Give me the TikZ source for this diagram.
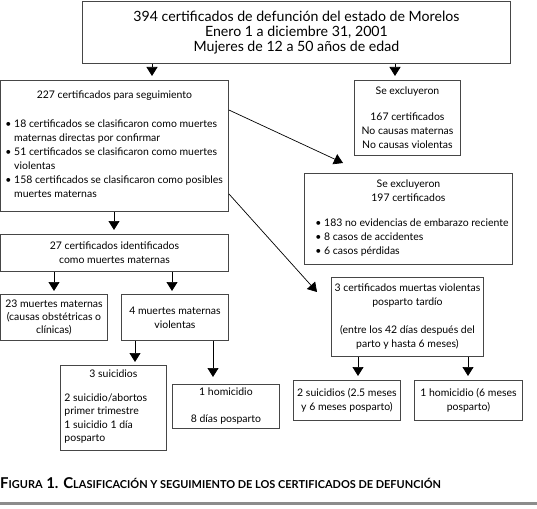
\documentclass[tikz,border=0pt]{standalone}
\usepackage{fontspec}
\setmainfont{Lato}
\usetikzlibrary{arrows.meta}

\newcommand{\leftblock}[2]{\makebox[#1][l]{\begin{tabular}{@{}l@{}}#2\end{tabular}}}
\newcommand{\bul}{\textbullet\ }
\newcommand{\nobul}{\phantom{\textbullet\ }}
\newcommand{\capsm}[1]{{\fontsize{11}{13}\selectfont #1}}

\begin{document}
\begin{tikzpicture}[x=1bp,y=-1bp,
  box/.style={draw=boxline,line width=0.9bp,anchor=north west,align=center,
    inner sep=0pt,font=\fontsize{10.5}{14}\selectfont},
  arr/.style={draw=black,line width=0.7bp,-{Triangle[width=11bp,length=9bp]},shorten >=4bp}]
% Define colours
\definecolor{boxline}{RGB}{70,70,70}
\definecolor{rule}{RGB}{140,140,140}
\useasboundingbox (0,0) rectangle (537,509);

% Top box
\node[box,minimum width=428bp,minimum height=62bp,font=\fontsize{14.2}{15}\selectfont] (total) at (82,1)
  {394 certificados de defunción del estado de Morelos\\ Enero 1 a diciembre 31, 2001\\ Mujeres de 12 a 50 años de edad};

% Second level
\node[box,minimum width=228bp,minimum height=131bp] (seg) at (0,80)
  {227 certificados para seguimiento\\[17bp]
   \leftblock{218bp}{\bul 18 certificados se clasificaron como muertes\\
   \nobul maternas directas por confirmar\\
   \bul 51 certificados se clasificaron como muertes\\
   \nobul violentas\\
   \bul 158 certificados se clasificaron como posibles\\
   \nobul muertes maternas}};
\node[box,minimum width=106bp,minimum height=75bp] (excl1) at (354,80)
  {Se excluyeron\\[12bp] 167 certificados\\ No causas maternas\\ No causas violentas};
\node[box,minimum width=208bp,minimum height=91bp] (excl2) at (304,173)
  {Se excluyeron\\ 197 certificados\\[14bp]
   \leftblock{186bp}{\bul 183 no evidencias de embarazo reciente\\
   \bul 8 casos de accidentes\\
   \bul 6 casos pérdidas}};

% Maternal deaths
\node[box,minimum width=228bp,minimum height=37bp] (mat27) at (0,234)
  {27 certificados identificados\\ como muertes maternas};
\node[box,minimum width=107bp,minimum height=46bp,font=\fontsize{10.5}{13.5}\selectfont] (mat23) at (0,294)
  {23 muertes maternas\\ (causas obstétricas o\\ clínicas)};
\node[box,minimum width=107bp,minimum height=46bp] (viol4) at (121,294)
  {4 muertes maternas\\ violentas};
\node[box,minimum width=106bp,minimum height=85bp,font=\fontsize{10.5}{13.5}\selectfont] (sui3) at (60,365)
  {3 suicidios\\[13bp]
   \leftblock{98bp}{2 suicidio/abortos\\ primer trimestre\\ 1 suicidio 1 día\\ posparto}};
\node[box,minimum width=107bp,minimum height=44bp] (hom1) at (172,384)
  {1 homicidio\\[13bp] 8 días posparto};

% Late postpartum
\node[box,minimum width=152bp,minimum height=79bp] (late3) at (331,277)
  {3 certificados muertas violentas\\ posparto tardío\\[14bp]
   (entre los 42 días después del\\ parto y hasta 6 meses)};
\node[box,minimum width=107bp,minimum height=40bp] (sui2) at (293,380)
  {2 suicidios (2.5 meses\\ y 6 meses posparto)};
\node[box,minimum width=108bp,minimum height=40bp] (hom6) at (414,380)
  {1 homicidio (6 meses\\ posparto)};

% Arrow positions
\coordinate (xseg) at (152,0);
\coordinate (xexcl) at (395,0);
\coordinate (xmat) at (114,0);
\coordinate (xmat23) at (54,0);
\coordinate (xviol) at (172,0);
\coordinate (xsui) at (135,0);
\coordinate (xhom) at (213,0);
\coordinate (xsui2) at (358,0);
\coordinate (xhom6) at (468,0);

% Add arrows
\draw[arr] (total.south -| xseg) -- (seg.north -| xseg);
\draw[arr] (total.south -| xexcl) -- (excl1.north -| xexcl);
\draw[arr] (seg.south -| xmat) -- (mat27.north -| xmat);
\draw[arr,shorten >=3bp] (mat27.south -| xmat23) -- (mat23.north -| xmat23);
\draw[arr,shorten >=3bp] (mat27.south -| xviol) -- (viol4.north -| xviol);
\draw[arr,shorten >=3bp] (viol4.south -| xsui) -- (sui3.north -| xsui);
\draw[arr,shorten >=7bp] (viol4.south -| xhom) -- (hom1.north -| xhom);
\draw[arr] (late3.south -| xsui2) -- (sui2.north -| xsui2);
\draw[arr] (late3.south -| xhom6) -- (hom6.north -| xhom6);
\draw[arr,shorten >=0pt] ([yshift=-30bp]seg.north east) -- ([shift={(39bp,10bp)}]excl2.north west);
\draw[arr,shorten >=0pt] ([yshift=18bp]seg.south east) -- ([shift={(-14bp,-15bp)}]late3.north west);

% Caption
\node[anchor=base west,inner sep=0pt,font=\bfseries\fontsize{15}{17}\selectfont] (caption) at (0,488)
  {F\capsm{IGURA} 1. C\capsm{LASIFICACIÓN Y SEGUIMIENTO DE LOS CERTIFICADOS DE DEFUNCIÓN}};
\draw[rule,line width=2.5bp] (0,503.5) -- (537,503.5);
\end{tikzpicture}
\end{document}
